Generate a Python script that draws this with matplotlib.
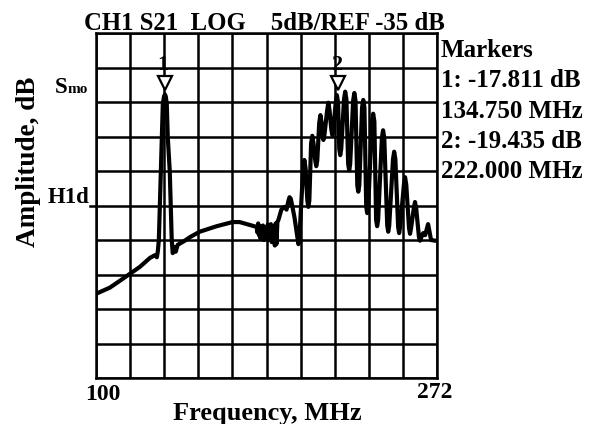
import matplotlib
matplotlib.use("Agg")
import matplotlib.pyplot as plt
import matplotlib.transforms as mtransforms

# ---------------- data ----------------
# low-frequency part + marker-1 peak
freq_low = [100.0, 107.0, 112.1, 117.1, 122.1, 127.2, 129.7, 130.7, 131.2, 131.7,
            132.7, 133.2, 133.7, 134.3, 134.75, 135.2, 135.7, 136.2, 137.2, 137.7,
            138.2, 138.7, 139.7, 140.2, 141.2, 144.8, 147.3, 152.3, 160.9, 168.9,
            172.4, 177.4]
amp_low = [-47.8, -46.9, -45.9, -44.9, -43.9, -42.6, -42.2, -42.5, -41.6, -40.0,
           -30.0, -25.1, -20.3, -19.2, -18.9, -19.2, -20.3, -25.1, -30.0, -35.1,
           -40.0, -41.9, -41.0, -41.7, -40.7, -40.1, -39.6, -38.8, -38.0, -37.4,
           -37.4, -37.8]
# noisy region
freq_mid = [181.0, 181.4, 181.8, 182.2, 182.6, 183.0, 183.4, 183.8, 184.2, 184.6,
            185.0, 185.4, 185.8, 186.2, 186.6, 187.0, 187.4, 187.8, 188.2, 188.6,
            189.0, 189.4, 189.8, 190.2, 190.6, 191.0, 191.5, 192.0, 193.5, 195.0,
            196.1, 197.0, 197.6, 198.2, 198.6, 200.1]
amp_mid = [-38.1, -38.9, -37.6, -39.3, -38.0, -39.8, -38.3, -39.5, -37.9, -40.0,
           -38.5, -39.6, -38.1, -39.2, -37.8, -39.9, -38.6, -39.0, -37.7, -40.3,
           -38.4, -39.4, -38.0, -40.8, -37.6, -40.6, -37.4, -37.1, -35.6, -35.2,
           -35.6, -34.4, -33.8, -34.0, -34.5, -36.7]
# ripple band (marker-2 region) and tail
freq_hi = [201.6, 202.1, 202.6, 204.5, 205.1, 205.7, 206.6, 207.1, 207.6, 208.5,
           209.1, 209.7, 210.6, 211.1, 211.6, 212.6, 213.2, 213.8, 214.2, 214.7,
           215.2, 216.6, 217.2, 217.8, 218.7, 219.2, 219.7, 220.9, 221.5, 222.1,
           222.7, 223.2, 223.7, 225.1, 225.7, 226.3, 227.2, 227.7, 228.2, 229.7,
           230.3, 230.9, 231.8, 232.3, 232.8, 234.2, 234.8, 235.4, 236.3, 236.8,
           237.3, 239.2, 239.8, 240.4, 241.3, 241.8, 242.3, 244.2, 244.8, 245.4,
           246.9, 247.4, 247.9, 249.8, 250.4, 251.0, 252.4, 252.9, 253.4, 255.3,
           255.9, 256.5, 257.9, 258.4, 258.9, 260.3, 260.9, 261.5, 262.9, 263.4,
           265.0, 266.0, 267.5, 269.0, 271.0, 272.0]
amp_hi = [-39.6, -40.6, -39.6, -29.6, -28.4, -29.6, -34.3, -35.2, -34.3, -26.0,
          -24.9, -26.0, -28.5, -29.3, -28.5, -23.0, -21.9, -23.0, -24.8, -25.5,
          -24.8, -21.2, -20.1, -21.2, -24.0, -24.8, -24.0, -20.1, -19.0, -20.1,
          -26.8, -27.7, -26.8, -19.6, -18.5, -19.6, -29.0, -29.9, -29.0, -19.8,
          -18.7, -19.8, -32.1, -33.0, -32.1, -20.8, -19.7, -20.8, -35.2, -36.1,
          -35.2, -22.8, -21.7, -22.8, -37.1, -38.0, -37.1, -25.2, -24.1, -25.2,
          -37.9, -38.8, -37.9, -28.3, -27.2, -28.3, -38.1, -39.0, -38.1, -32.0,
          -30.9, -32.0, -38.3, -39.1, -38.3, -35.4, -34.5, -35.4, -39.6, -40.1,
          -39.0, -39.3, -37.7, -40.0, -40.1, -40.1]

freq_mhz = freq_low + freq_mid + freq_hi
amp_db = amp_low + amp_mid + amp_hi

marker_ids = ["1", "2"]
marker_freq = [134.75, 222.0]
marker_lines = ["Markers", "1: -17.811 dB", "134.750 MHz", "2: -19.435 dB", "222.000 MHz"]

x_min, x_max, x_div = 100, 272, 10
ref_db, db_per_div, y_div = -35, 5, 10
y_top = ref_db + db_per_div * y_div / 2
y_bot = ref_db - db_per_div * y_div / 2

# ---------------- figure ----------------
W, H = 607, 424
fig = plt.figure(figsize=(W / 100, H / 100), dpi=100)
fig.patch.set_facecolor("white")
L, R, T, B = 96, 437, 33, 378
ax = fig.add_axes([L / W, 1 - B / H, (R - L) / W, (B - T) / H])

FONT = "Liberation Serif"

ax.set_xlim(x_min, x_max)
ax.set_ylim(y_bot, y_top)
xt = [x_min + i * (x_max - x_min) / x_div for i in range(x_div + 1)]
yt = [y_bot + i * db_per_div for i in range(y_div + 1)]
for v in xt:
    ax.axvline(v, color="black", lw=1.8, zorder=1)
for v in yt:
    ax.axhline(v, color="black", lw=1.8, zorder=1)
ax.set_xticks([])
ax.set_yticks([])
for s in ax.spines.values():
    s.set_linewidth(1.8)

# extended REF line to the left
ax.plot([-0.018, 0], [0.5, 0.5], transform=ax.transAxes, color="black",
        lw=1.8, clip_on=False)

ax.plot(freq_mhz, amp_db, color="black", lw=3.0, solid_joinstyle="round",
        solid_capstyle="round", zorder=3)

trans = mtransforms.blended_transform_factory(ax.transData, ax.transAxes)
for mid, mf in zip(marker_ids, marker_freq):
    ax.plot([mf], [0.855], marker="v", markersize=10, mfc="white", mec="black",
            mew=1.6, transform=trans, clip_on=False, zorder=4)
    ax.text(mf - 0.8, 0.907, mid, transform=trans, ha="center", va="center",
            fontsize=16, fontweight="bold", family=FONT)


def ftext(x, y, s, **kw):
    fig.text(x / W, 1 - y / H, s, family=FONT, fontweight="bold", **kw)


ftext(264, 30, "CH1 S21  LOG    5dB/REF -35 dB", fontsize=17.8, ha="center",
      va="baseline")
for i, line in enumerate(marker_lines):
    ftext(441, 57 + i * 30.3, line, fontsize=18, ha="left", va="baseline")

ftext(29, 162, "Amplitude, dB", fontsize=19.5, rotation=90, ha="center",
      va="center")
ftext(267, 420, "Frequency, MHz", fontsize=19, ha="center", va="baseline")
ftext(103, 400, "100", fontsize=17, ha="center", va="baseline")
ftext(435, 398, "272", fontsize=17, ha="center", va="baseline")
ftext(89, 203, "H1d", fontsize=16.5, ha="right", va="baseline")
ftext(68, 93, "S", fontsize=16.5, ha="right", va="baseline")
ftext(68, 93, "mo", fontsize=11, ha="left", va="baseline")

fig.savefig("out.png", dpi=100, facecolor="white")
